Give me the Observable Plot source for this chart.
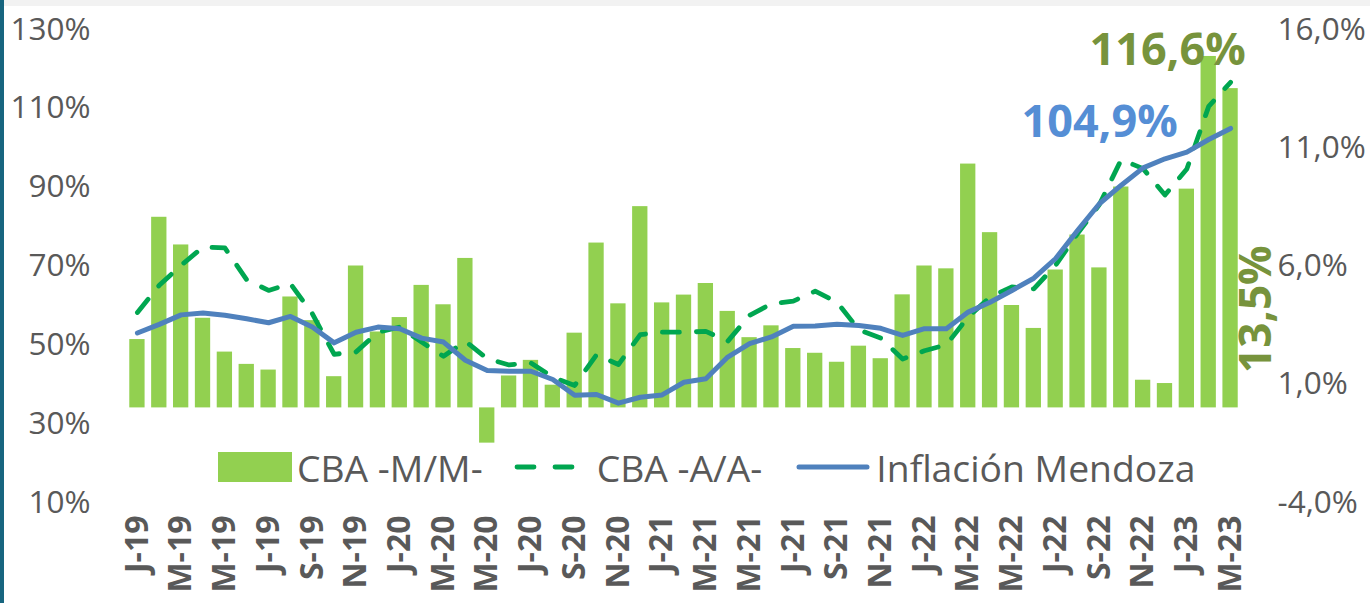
<!DOCTYPE html>
<html>
<head>
<meta charset="utf-8">
<script src="https://cdn.jsdelivr.net/npm/d3@7"></script>
<script src="https://cdn.jsdelivr.net/npm/@observablehq/plot@0.6"></script>
<style>
html,body{margin:0;padding:0;background:#fff;}
#wrap{position:relative;width:1370px;height:603px;overflow:hidden;font-family:"Open Sans",sans-serif;background:#fff;}
#topband{position:absolute;left:0;top:0;width:1370px;height:6px;background:#f2f2f2;}
#leftband{position:absolute;left:0;top:0;width:4px;height:603px;background:#17657f;}
#chart{position:absolute;left:0;top:0;}
#legend{position:absolute;left:218px;top:444px;height:46px;display:flex;align-items:center;color:#595959;font-size:37.3px;white-space:nowrap;}
#legend svg{display:block;}
</style>
</head>
<body>
<div id="wrap">
  <div id="chart"></div>
  <div id="topband"></div>
  <div id="leftband"></div>
  <div id="legend"></div>
</div>
<script>
// Months (Jan-2019 .. Mar-2023)
const months = ["Jan-19","Feb-19","Mar-19","Apr-19","May-19","Jun-19","Jul-19","Aug-19","Sep-19","Oct-19","Nov-19","Dec-19",
"Jan-20","Feb-20","Mar-20","Apr-20","May-20","Jun-20","Jul-20","Aug-20","Sep-20","Oct-20","Nov-20","Dec-20",
"Jan-21","Feb-21","Mar-21","Apr-21","May-21","Jun-21","Jul-21","Aug-21","Sep-21","Oct-21","Nov-21","Dec-21",
"Jan-22","Feb-22","Mar-22","Apr-22","May-22","Jun-22","Jul-22","Aug-22","Sep-22","Oct-22","Nov-22","Dec-22",
"Jan-23","Feb-23","Mar-23"];
// X tick labels (every second month)
const tickLabels = ["J-19","M-19","M-19","J-19","S-19","N-19","J-20","M-20","M-20","J-20","S-20","N-20",
"J-21","M-21","M-21","J-21","S-21","N-21","J-22","M-22","M-22","J-22","S-22","N-22","J-23","M-23"];
// CBA month over month (%), right axis
const cbaMM = [2.89,8.06,6.89,3.79,2.36,1.84,1.60,4.69,3.69,1.32,6.00,3.21,3.82,5.18,4.36,6.32,-1.49,1.35,2.01,0.96,
3.16,6.97,4.40,8.51,4.44,4.77,5.26,4.08,2.97,3.47,2.51,2.31,1.93,2.61,2.08,4.78,6.00,5.88,10.31,7.41,
4.33,3.36,5.83,7.31,5.92,9.34,1.17,1.03,9.25,14.86,13.5];
// CBA year over year (%), left axis
const cbaAA = [58.2,65.1,70.2,74.8,74.6,66.5,63.8,65.5,57.9,47.6,48.2,53.2,54.5,50.7,47.1,50.9,46.5,44.9,45.4,41.8,
39.7,47.5,45.0,52.6,53.2,53.2,53.4,50.9,57.5,60.4,61.1,63.6,60.8,53.8,51.7,46.4,48.5,50.0,57.1,62.1,
64.7,64.2,70.2,78.2,85.6,97.0,94.7,88.0,94.6,110.5,116.6];
// Inflación Mendoza year over year (%), left axis
const inflacion = [53.0,55.2,57.6,58.1,57.5,56.6,55.6,57.2,54.5,50.5,53.2,54.5,54.1,51.7,50.7,46.1,43.5,43.3,43.3,41.2,
37.2,37.4,35.2,36.7,37.3,40.5,41.4,46.9,50.3,52.0,54.7,54.8,55.2,54.9,54.2,52.4,54.1,54.1,58.3,60.8,
63.8,66.9,71.9,79.0,85.8,90.5,94.9,97.2,98.9,102.1,104.9];
const leftTicks = [10,30,50,70,90,110,130];
const rightTicks = [-4,1,6,11,16];

const data = months.map((m, i) => ({month: m, mm: cbaMM[i], aa: cbaAA[i], inf: inflacion[i]}));
const tickMonths = months.filter((m, i) => i % 2 === 0);
const tickLabelOf = new Map(tickMonths.map((m, i) => [m, tickLabels[i]]));

// map left-axis values (10..130) onto the shared right-axis scale (-4..16)
const L0 = 10, L1 = 130, R0 = -4, R1 = 16;
const toY = v => (v - L0) / (L1 - L0) * (R1 - R0) + R0;
const fromY = y => (y - R0) / (R1 - R0) * (L1 - L0) + L0;
const fmt = v => v.toFixed(1).replace(".", ",") + "%";
const last = data[data.length - 1];

const axisColor = "#595959";
const chart = Plot.plot({
  width: 1370, height: 603,
  marginTop: 29, marginBottom: 101, marginLeft: 126, marginRight: 129,
  style: {fontFamily: "'Open Sans', sans-serif", background: "transparent", overflow: "visible"},
  x: {type: "band", domain: months, paddingInner: 0.3, paddingOuter: 0.15, label: null},
  y: {domain: [R0, R1], label: null},
  marks: [
    Plot.barY(data, {x: "month", y: "mm", fill: "#92D050"}),
    Plot.line(data, {x: "month", y: d => toY(d.aa), stroke: "#00A650", strokeWidth: 4.8,
      strokeDasharray: "17,17", strokeLinecap: "round", strokeLinejoin: "round"}),
    Plot.line(data, {x: "month", y: d => toY(d.inf), stroke: "#4F81BD", strokeWidth: 5, strokeLinejoin: "round"}),
    Plot.axisX(tickMonths, {tickFormat: m => tickLabelOf.get(m), tickRotate: -90, tickSize: 0, tickPadding: 13,
      fontSize: 32, fontWeight: "bold", color: axisColor, label: null}),
    Plot.axisY(leftTicks.map(toY), {anchor: "left", tickFormat: d => Math.round(fromY(d)) + "%",
      tickSize: 0, tickPadding: 36, fontSize: 31.5, color: axisColor, label: null}),
    Plot.axisY(rightTicks, {anchor: "right", tickFormat: fmt, tickSize: 0, tickPadding: 36,
      fontSize: 31.5, color: axisColor, label: null}),
    Plot.text([last], {x: "month", y: d => toY(d.aa), text: d => fmt(d.aa), dx: -63, dy: -32,
      fill: "#77933C", fontSize: 45, fontWeight: "bold"}),
    Plot.text([last], {x: "month", y: d => toY(d.inf), text: d => fmt(d.inf), dx: -131, dy: -6,
      fill: "#558ED5", fontSize: 45, fontWeight: "bold"}),
    Plot.text([last], {x: "month", y: 0, text: d => fmt(d.mm), rotate: -90, textAnchor: "start",
      dx: 26, dy: -35, fill: "#77933C", fontSize: 44, fontWeight: "bold"})
  ]
});
document.getElementById("chart").appendChild(chart);

// Legend
const legend = document.getElementById("legend");
legend.innerHTML = `
  <svg width="74" height="30"><rect width="74" height="30" fill="#92D050"></rect></svg>
  <span style="margin-left:5px">CBA -M/M-</span>
  <svg width="66" height="10" style="margin-left:30px"><line x1="4" y1="5" x2="62" y2="5" stroke="#00A650" stroke-width="4.8" stroke-linecap="round" stroke-dasharray="17,21"></line></svg>
  <span style="margin-left:18px">CBA -A/A-</span>
  <svg width="74" height="10" style="margin-left:34px"><line x1="3" y1="5" x2="71" y2="5" stroke="#4F81BD" stroke-width="5" stroke-linecap="round"></line></svg>
  <span style="margin-left:6px">Inflación Mendoza</span>`;
</script>
</body>
</html>
